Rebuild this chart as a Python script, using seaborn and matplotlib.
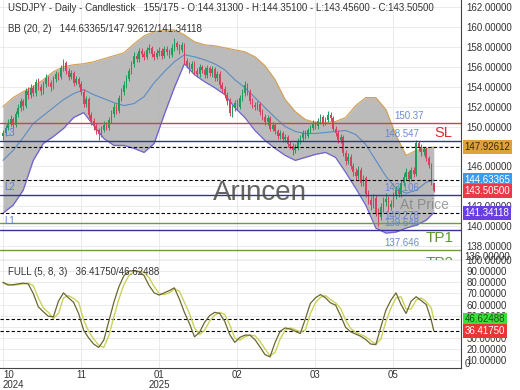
import numpy as np
import matplotlib
matplotlib.use("Agg")
import matplotlib.pyplot as plt
import matplotlib.transforms as mtransforms
import seaborn as sns

# ------------------------------------------------------
# DATA
# ------------------------------------------------------
first_open = 149.0
closes = [
    149.3, 149.9, 150.4, 150.8, 150.2, 151.3, 151.9, 152.6, 152.1, 153.6,
    153.2, 153.9, 153.4, 154.5, 154.0, 153.6, 154.3, 154.9, 154.4, 154.0,
    154.8, 155.3, 155.0, 155.9, 156.4, 155.6, 155.0, 155.4, 154.4, 154.8,
    154.3, 153.5, 152.3, 152.8, 151.2, 150.6, 150.1, 149.6, 149.2, 149.7,
    150.2, 149.9, 150.7, 151.3, 152.0, 151.6, 152.9, 153.5, 154.2, 154.8,
    155.6, 156.3, 157.1, 156.8, 157.6, 157.3, 157.0, 157.7, 157.9, 157.3,
    157.0, 157.4, 157.6, 157.1, 157.8, 157.5, 157.2, 157.9, 158.4, 158.0,
    157.7, 158.2, 156.6, 156.2, 155.8, 156.3, 155.6, 155.3, 156.0, 155.7,
    155.2, 155.9, 155.4, 155.8, 154.9, 155.3, 154.2, 153.8, 153.2, 152.6,
    151.4, 151.9, 152.4, 152.0, 152.9, 153.4, 154.2, 153.5, 152.6, 152.2,
    152.0, 152.3, 151.5, 151.0, 150.5, 150.9, 149.8, 150.2, 149.5, 149.0,
    149.3, 148.7, 148.9, 148.2, 148.0, 147.6, 147.9, 148.5, 148.8, 149.3,
    149.0, 149.6, 149.9, 150.4, 150.1, 150.6, 151.0, 150.4, 150.7, 151.2,
    150.9, 149.8, 149.3, 148.6, 148.9, 147.3, 146.5, 146.9, 146.0, 145.4,
    145.0, 145.6, 144.3, 144.8, 143.2, 142.6, 142.1, 142.8, 141.3, 140.9,
    141.9, 142.4, 142.7, 141.9, 142.2, 143.0, 143.6, 143.2, 144.3, 144.9,
    145.4, 144.7, 145.6, 145.2, 148.3, 147.9, 147.4, 147.7, 146.8, 146.1, 144.313, 143.505,
]
highs = [
    149.7, 150.2, 150.8, 151.2, 151.0, 151.6, 152.3, 152.9, 152.8, 153.9,
    154.0, 154.3, 154.2, 154.8, 154.9, 154.3, 154.6, 155.3, 155.1, 154.7,
    155.1, 155.6, 155.5, 156.2, 156.8, 156.6, 155.9, 155.7, 155.6, 155.1,
    155.0, 154.6, 153.8, 153.1, 153.0, 151.5, 150.9, 150.4, 149.9, 150.1,
    150.6, 150.5, 151.0, 151.7, 152.4, 152.3, 153.2, 153.9, 154.6, 155.2,
    155.9, 156.6, 157.5, 157.4, 157.9, 157.9, 157.6, 158.0, 158.3, 158.1,
    157.6, 157.8, 158.0, 157.9, 158.1, 158.1, 157.8, 158.3, 158.9, 158.6,
    158.3, 158.5, 158.4, 156.9, 156.5, 156.6, 156.6, 155.9, 156.3, 156.2,
    156.0, 156.2, 156.1, 156.1, 156.0, 155.6, 155.6, 154.5, 154.1, 153.5,
    152.9, 152.2, 152.7, 152.8, 153.2, 153.8, 154.6, 154.4, 153.8, 152.9,
    152.5, 152.6, 152.5, 151.8, 151.3, 151.2, 151.1, 150.5, 150.4, 149.8,
    149.6, 149.5, 149.2, 149.1, 148.5, 148.3, 148.2, 148.8, 149.1, 149.6,
    149.6, 149.9, 150.2, 150.7, 150.6, 150.9, 151.3, 151.2, 151.0, 151.6,
    151.5, 151.1, 150.1, 149.6, 149.2, 149.1, 147.6, 147.3, 147.2, 146.3,
    145.8, 146.0, 145.9, 145.1, 145.0, 143.6, 143.0, 143.2, 143.1, 141.8,
    142.3, 142.9, 143.3, 143.0, 142.6, 143.4, 144.0, 143.9, 144.6, 145.3,
    145.8, 145.6, 145.9, 145.9, 148.65, 148.5, 148.2, 147.9, 147.9, 147.0, 146.3, 144.351,
]
lows = [
    148.6, 149.0, 149.6, 150.1, 149.9, 150.0, 151.0, 151.6, 151.7, 151.9,
    152.8, 152.9, 153.1, 153.1, 153.7, 153.2, 153.3, 154.0, 154.1, 153.6,
    153.8, 154.5, 154.7, 154.8, 155.6, 155.3, 154.7, 154.8, 154.1, 154.2,
    154.0, 153.2, 152.0, 152.0, 150.9, 150.2, 149.7, 149.2, 148.6, 148.9,
    149.4, 149.6, 149.6, 150.4, 151.0, 151.3, 151.4, 152.6, 153.2, 153.9,
    154.6, 155.3, 156.0, 156.5, 156.5, 157.0, 156.7, 156.8, 157.4, 157.0,
    156.7, 156.8, 157.1, 156.8, 156.9, 157.2, 156.9, 157.0, 157.6, 157.7,
    157.3, 157.5, 156.3, 155.9, 155.4, 155.5, 155.3, 155.0, 155.0, 155.4,
    154.9, 154.9, 155.1, 155.0, 154.6, 154.6, 153.9, 153.5, 152.9, 152.2,
    151.1, 151.0, 151.6, 151.7, 151.8, 152.6, 153.1, 153.2, 152.3, 151.9,
    151.7, 151.7, 151.2, 150.7, 150.2, 150.2, 149.5, 149.5, 149.2, 148.7,
    148.7, 148.4, 148.4, 147.9, 147.7, 147.1, 147.3, 147.6, 148.2, 148.5,
    148.7, 148.8, 149.3, 149.6, 149.8, 149.8, 150.3, 150.1, 150.2, 150.5,
    150.6, 149.5, 149.0, 148.3, 148.3, 147.0, 146.1, 146.2, 145.7, 145.0,
    144.6, 144.7, 144.0, 144.0, 142.9, 142.2, 141.6, 141.8, 141.0, 140.0,
    140.6, 141.4, 142.0, 141.5, 141.6, 141.9, 142.7, 142.9, 142.9, 144.0,
    144.6, 144.4, 144.5, 144.9, 145.0, 147.5, 147.0, 147.1, 146.5, 145.8, 144.1, 143.456,
]

# Bollinger bands (20, 2), read every 4th bar
bb_upper = [
    152.0, 152.9, 153.5, 154.0, 154.7, 155.5, 156.0, 156.2, 156.3, 156.5,
    156.8, 157.1, 157.4, 158.3, 159.1, 159.5, 159.7, 159.7, 159.2, 158.5,
    158.2, 158.1, 157.9, 157.7, 157.5, 157.0, 156.1, 154.7, 152.7, 151.5,
    150.7, 150.4, 150.4, 150.5, 150.9, 152.1, 152.9, 152.9, 151.7, 149.1,
    147.1, 147.6, 147.8, 147.926,
]
bb_mid = [
    146.6, 147.6, 148.9, 150.3, 151.1, 151.9, 152.7, 153.3, 153.7, 153.2,
    152.8, 152.4, 152.1, 152.3, 153.0, 154.4, 155.5, 156.5, 157.2, 157.0,
    156.7, 156.3, 155.7, 154.7, 153.9, 152.9, 151.9, 150.9, 150.0, 149.5,
    149.3, 149.3, 149.4, 149.5, 149.6, 149.2, 148.2, 146.6, 145.0, 143.8,
    143.3, 143.6, 144.4, 144.634,
]
bb_lower = [
    141.3, 142.1, 143.6, 146.6, 148.3, 149.0, 149.8, 150.9, 151.4, 150.1,
    148.8, 148.1, 148.1, 147.8, 147.4, 148.3, 151.2, 153.9, 156.3, 155.2,
    154.5, 153.9, 153.2, 151.9, 150.9, 149.6, 148.6, 147.8, 147.1, 146.6,
    146.9, 147.2, 147.4, 146.9, 145.4, 143.8, 142.1, 139.8, 139.3, 139.4,
    139.8, 140.1, 140.6, 141.341,
]

# Full stochastic (5, 8, 3), read every 2nd bar
stoch_k = [
    80, 77.5, 77.8, 78.6, 79.2, 78.5, 70, 58, 53.5, 49.5,
    49, 63, 70.5, 66, 62, 52, 37, 30, 24.5, 21.5,
    28, 45, 62, 76, 86, 90, 90.5, 89.5, 86, 77,
    70.5, 68.5, 70.5, 72.5, 75, 65, 53, 43, 31, 35,
    44, 50, 53, 52, 45, 33, 26, 30.5, 32.5, 32.5,
    28.5, 22, 15, 13, 26, 36, 39, 38, 36, 34,
    47, 61, 66, 69, 66, 61.5, 59.5, 50, 39.5, 35.5,
    33.5, 31.5, 28.5, 24.5, 24, 40, 55, 64, 70.5, 60,
    52, 63, 67, 63.5, 60, 46, 36.4175,
]
stoch_d = [
    79, 78.3, 77.3, 77.8, 78.5, 79.3, 77, 66, 57, 53,
    47.5, 52, 66, 68, 65.5, 62, 46, 36, 29, 23.5,
    21.5, 32, 49, 65, 78, 86, 89.5, 90, 89, 84,
    76, 70, 69, 70.5, 74, 72, 62, 52, 39, 33,
    37, 45, 50.5, 53, 51, 42, 30, 28, 31, 32.5,
    32, 27, 20, 14, 17, 29, 37, 39, 37.5, 35.5,
    37, 52, 61.5, 66.5, 68, 64.5, 61.5, 56.5, 46, 38.5,
    35, 33, 31, 27.5, 24.5, 29, 45, 57, 66, 67,
    56, 56, 64, 66, 62.5, 57, 46.62488,
]

month_labels = ["10\n2024", "11", "01\n2025", "02", "03", "05"]

# price levels drawn on the chart
level_values = [150.37, 148.547, 143.106, 140.278, 139.648, 137.646]
level_names = ["150.37", "148.547", "143.106", "140.278", "139.648", "137.646"]
level_colors = ["#e03a3a", "#33339a", "#33339a", "#6e9a45", "#33339a", "#6e9a45"]

bb_now = [147.92612, 144.63365, 141.34118]
last_close = 143.505
stoch_now = [36.41750, 46.62488]


def main():
    sns.set_style("whitegrid")
    plt.rcParams["font.family"] = ["Liberation Sans", "DejaVu Sans"]

    n = len(closes)
    x = np.arange(n)
    c = np.array(closes)
    o = np.array([first_open] + closes[:-1])
    h = np.array(highs)
    l = np.array(lows)
    band_x = list(range(0, n - 3, 4)) + [n - 1]
    stoch_x = list(range(0, n - 1, 2)) + [n - 1]
    month_pos = [0, 30.95, 61.9, 92.85, 123.8, 154.75]

    fig = plt.figure(figsize=(5.2, 3.9), dpi=100)
    ax = fig.add_axes([0, 130 / 390, 461 / 520, 260 / 390])
    ax2 = fig.add_axes([0, 22 / 390, 461 / 520, 108 / 390])

    grid_kw = dict(color="#e8e8e8", lw=0.6)
    for a in (ax, ax2):
        a.set_xlim(-1.2, 181.8)
        a.set_axisbelow(True)
        a.grid(True, **grid_kw)
        a.spines["left"].set_visible(False)
        a.spines["top"].set_visible(False)
        a.spines["right"].set_color("#444444")
        a.spines["bottom"].set_color("#444444")
        a.spines["right"].set_linewidth(0.8)
        a.spines["bottom"].set_linewidth(0.8)
        a.yaxis.tick_right()
        a.tick_params(axis="both", length=0, labelsize=7, colors="#333333", pad=4)
        a.set_xticks(month_pos)

    # ---------------- main panel ----------------
    ax.set_ylim(136.6, 162.7)
    ax.set_yticks(np.arange(138, 163, 2))
    ax.set_yticklabels([f"{v:.5f}" for v in np.arange(138, 163, 2)])
    ax.tick_params(labelbottom=False)

    ax.fill_between(band_x, bb_lower, bb_upper, color="#b4b4b4", alpha=0.9, lw=0, zorder=1)
    sns.lineplot(x=band_x, y=bb_upper, ax=ax, color="#d2a25c", lw=0.9, zorder=2)
    sns.lineplot(x=band_x, y=bb_lower, ax=ax, color="#6f62d2", lw=0.9, zorder=2)
    sns.lineplot(x=band_x, y=bb_mid, ax=ax, color="#5b8cc4", lw=0.8, zorder=2)

    up = c >= o
    col = np.where(up, "#1f9e5a", "#d8405e")
    ax.vlines(x, l, h, colors=col, lw=0.7, zorder=3)
    ax.bar(x, np.maximum(np.abs(c - o), 0.08), bottom=np.minimum(o, c), width=0.6,
           color=col, lw=0, zorder=3)

    for v, name, lc in zip(level_values, level_names, level_colors):
        ax.axhline(v, color=lc, lw=1.0, zorder=4)
        xpos = 161.1 if name == "150.37" else 158.3
        ax.text(xpos, v + 0.2, name, color="#5a7fd0", fontsize=7, ha="center",
                va="bottom", zorder=6, alpha=0.9)
    for v in bb_now:
        ax.axhline(v, color="black", lw=0.8, ls=(0, (3, 2)), zorder=4)

    for lab, v in zip(["L3", "L2", "L1"], [148.547, 143.106, 139.648]):
        ax.text(0.4, v + 0.35, lab, color="#5a7fd0", fontsize=7, ha="left", va="bottom", zorder=6)

    ax.text(174.6, 148.62, "SL", color="#e02a2a", fontsize=10.5, ha="center", va="bottom", zorder=6)
    ax.text(173.4, 139.5, "TP1", color="#5a9a30", fontsize=11, ha="center", va="top", zorder=6)
    ax.text(173.4, 137.0, "TP2", color="#5a9a30", fontsize=11, ha="center", va="top", zorder=6,
            clip_on=True)
    ax.text(102, 143.3, "Arincen", color="#4a4a4a", fontsize=20, ha="center", va="center",
            alpha=0.85, zorder=7)
    ax.text(157.5, 142.1, "At Price", color="#777777", fontsize=10, ha="left", va="center",
            alpha=0.7, zorder=7)

    ax.text(0.017, 0.969, "USDJPY - Daily - Candlestick   155/175 - O:144.31300 - H:144.35100 - "
            "L:143.45600 - C:143.50500", transform=ax.transAxes, fontsize=7, color="#333333",
            va="center", zorder=8)
    ax.text(0.017, 0.888, "BB (20, 2)   144.63365/147.92612/141.34118", transform=ax.transAxes,
            fontsize=7, color="#333333", va="center", zorder=8)

    tr = mtransforms.blended_transform_factory(ax.transAxes, ax.transData)
    ax.text(1.008, 136.95, "136.00000", transform=tr, fontsize=7, color="#333333",
            va="center", clip_on=False)
    boxes = [(bb_now[0], "#dfa23a", "#3a2a10"), (bb_now[1], "#3b9bec", "white"),
             (last_close, "#ea3a4a", "white"), (bb_now[2], "#6a3fe2", "white")]
    for v, fc, tc in boxes:
        ax.text(1.008, v, f"{v:.5f}", transform=tr, fontsize=7, color=tc, va="center",
                ha="left", clip_on=False, zorder=10,
                bbox=dict(boxstyle="square,pad=0.18", fc=fc, ec="none"))

    # ---------------- stochastic panel ----------------
    ax2.set_ylim(3, 100)
    ax2.set_yticks(np.arange(10, 101, 10))
    ax2.set_yticklabels([f"{v:.5f}" for v in np.arange(10, 101, 10)])
    sns.lineplot(x=stoch_x, y=stoch_d, ax=ax2, color="#c9d35a", lw=1.0, zorder=3)
    sns.lineplot(x=stoch_x, y=stoch_k, ax=ax2, color="#6b6633", lw=0.9, zorder=3)
    for v in stoch_now:
        ax2.axhline(v, color="black", lw=0.8, ls=(0, (3, 2)), zorder=2)

    ax2.set_xticklabels(month_labels, linespacing=0.95)
    labs = ax2.get_xticklabels()
    labs[0].set_ha("left")
    ax2.tick_params(axis="x", pad=1.5)

    ax2.text(0.017, 0.889, "FULL (5, 8, 3)   36.41750/46.62488", transform=ax2.transAxes,
             fontsize=7, color="#333333", va="center", zorder=8)
    tr2 = mtransforms.blended_transform_factory(ax2.transAxes, ax2.transData)
    ax2.text(1.008, 7.0, "0", transform=tr2, fontsize=7, color="#333333", va="center",
             clip_on=False)
    ax2.text(1.008, stoch_now[1], f"{stoch_now[1]:.5f}", transform=tr2, fontsize=7,
             color="#1f4f1f", va="center", clip_on=False, zorder=10,
             bbox=dict(boxstyle="square,pad=0.18", fc="#3fdc3f", ec="none"))
    ax2.text(1.008, stoch_now[0], f"{stoch_now[0]:.5f}", transform=tr2, fontsize=7,
             color="white", va="center", clip_on=False, zorder=10,
             bbox=dict(boxstyle="square,pad=0.18", fc="#ec3434", ec="none"))

    fig.savefig("out.png", dpi=100)


if __name__ == "__main__":
    main()
